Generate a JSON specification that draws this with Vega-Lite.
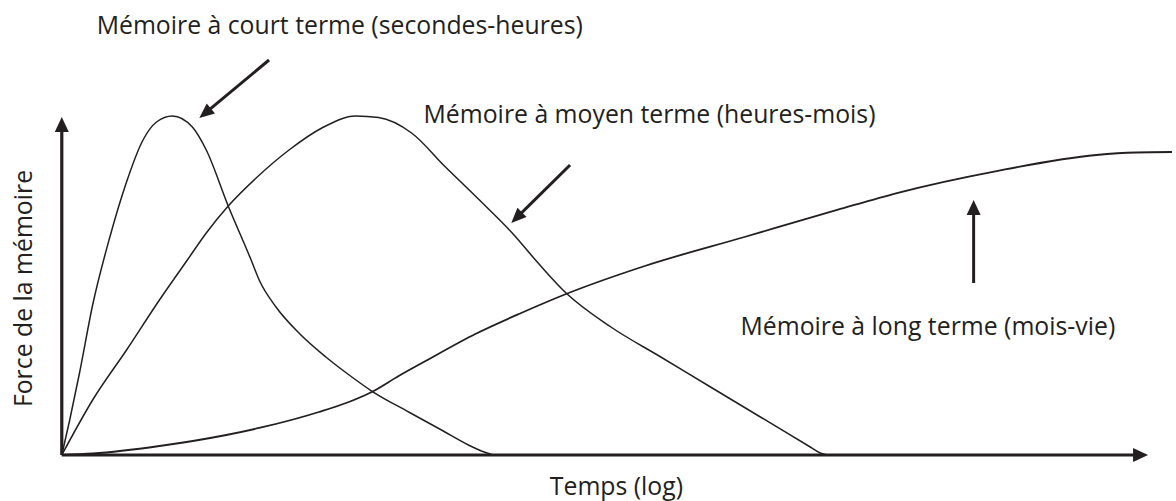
{
  "$schema": "https://vega.github.io/schema/vega-lite/v6.json",
  "width": 1176,
  "height": 501,
  "padding": 0,
  "autosize": {"type": "fit", "contains": "padding"},
  "background": "white",
  "config": {"view": {"stroke": null}},
  "datasets": {
    "courbes": [
      {"serie": "court", "ordre": 0, "t": 0, "f": 0},
      {"serie": "court", "ordre": 1, "t": 0.73, "f": 10.36},
      {"serie": "court", "ordre": 2, "t": 1.65, "f": 24.56},
      {"serie": "court", "ordre": 3, "t": 2.84, "f": 44.38},
      {"serie": "court", "ordre": 4, "t": 4.40, "f": 64.20},
      {"serie": "court", "ordre": 5, "t": 5.96, "f": 80.77},
      {"serie": "court", "ordre": 6, "t": 7.43, "f": 92.90},
      {"serie": "court", "ordre": 7, "t": 8.72, "f": 98.52},
      {"serie": "court", "ordre": 8, "t": 10.18, "f": 100.30},
      {"serie": "court", "ordre": 9, "t": 12.02, "f": 97.04},
      {"serie": "court", "ordre": 10, "t": 13.30, "f": 90.24},
      {"serie": "court", "ordre": 11, "t": 15.32, "f": 73.67},
      {"serie": "court", "ordre": 12, "t": 17.43, "f": 57.69},
      {"serie": "court", "ordre": 13, "t": 18.17, "f": 51.78},
      {"serie": "court", "ordre": 14, "t": 19.72, "f": 43.79},
      {"serie": "court", "ordre": 15, "t": 21.83, "f": 36.09},
      {"serie": "court", "ordre": 16, "t": 24.31, "f": 28.99},
      {"serie": "court", "ordre": 17, "t": 26.70, "f": 23.08},
      {"serie": "court", "ordre": 18, "t": 28.53, "f": 18.93},
      {"serie": "court", "ordre": 19, "t": 31.93, "f": 12.72},
      {"serie": "court", "ordre": 20, "t": 34.95, "f": 7.40},
      {"serie": "court", "ordre": 21, "t": 37.43, "f": 2.96},
      {"serie": "court", "ordre": 22, "t": 38.62, "f": 1.18},
      {"serie": "court", "ordre": 23, "t": 39.72, "f": 0},
      {"serie": "moyen", "ordre": 0, "t": 0, "f": 0},
      {"serie": "moyen", "ordre": 1, "t": 2.84, "f": 16.27},
      {"serie": "moyen", "ordre": 2, "t": 5.96, "f": 31.07},
      {"serie": "moyen", "ordre": 3, "t": 8.99, "f": 45.86},
      {"serie": "moyen", "ordre": 4, "t": 11.56, "f": 57.69},
      {"serie": "moyen", "ordre": 5, "t": 13.30, "f": 65.68},
      {"serie": "moyen", "ordre": 6, "t": 15.32, "f": 73.67},
      {"serie": "moyen", "ordre": 7, "t": 17.89, "f": 81.95},
      {"serie": "moyen", "ordre": 8, "t": 20.92, "f": 90.24},
      {"serie": "moyen", "ordre": 9, "t": 23.94, "f": 96.75},
      {"serie": "moyen", "ordre": 10, "t": 27.06, "f": 100.30},
      {"serie": "moyen", "ordre": 11, "t": 29.17, "f": 99.85},
      {"serie": "moyen", "ordre": 12, "t": 32.20, "f": 95.27},
      {"serie": "moyen", "ordre": 13, "t": 35.32, "f": 85.21},
      {"serie": "moyen", "ordre": 14, "t": 38.35, "f": 75.74},
      {"serie": "moyen", "ordre": 15, "t": 41.38, "f": 65.98},
      {"serie": "moyen", "ordre": 16, "t": 43.85, "f": 56.80},
      {"serie": "moyen", "ordre": 17, "t": 46.42, "f": 47.93},
      {"serie": "moyen", "ordre": 18, "t": 50.55, "f": 37.87},
      {"serie": "moyen", "ordre": 19, "t": 55.14, "f": 28.99},
      {"serie": "moyen", "ordre": 20, "t": 59.72, "f": 20.12},
      {"serie": "moyen", "ordre": 21, "t": 64.31, "f": 11.24},
      {"serie": "moyen", "ordre": 22, "t": 68.90, "f": 2.37},
      {"serie": "moyen", "ordre": 23, "t": 69.82, "f": 0.59},
      {"serie": "moyen", "ordre": 24, "t": 70.46, "f": 0},
      {"serie": "long", "ordre": 0, "t": 0, "f": 0},
      {"serie": "long", "ordre": 1, "t": 2.84, "f": 0.44},
      {"serie": "long", "ordre": 2, "t": 8.99, "f": 2.66},
      {"serie": "long", "ordre": 3, "t": 15.14, "f": 5.92},
      {"serie": "long", "ordre": 4, "t": 18.17, "f": 7.99},
      {"serie": "long", "ordre": 5, "t": 23.67, "f": 12.72},
      {"serie": "long", "ordre": 6, "t": 26.42, "f": 15.68},
      {"serie": "long", "ordre": 7, "t": 28.53, "f": 18.64},
      {"serie": "long", "ordre": 8, "t": 31.01, "f": 23.37},
      {"serie": "long", "ordre": 9, "t": 33.49, "f": 27.81},
      {"serie": "long", "ordre": 10, "t": 38.07, "f": 35.80},
      {"serie": "long", "ordre": 11, "t": 42.29, "f": 42.01},
      {"serie": "long", "ordre": 12, "t": 46.42, "f": 47.63},
      {"serie": "long", "ordre": 13, "t": 53.67, "f": 55.92},
      {"serie": "long", "ordre": 14, "t": 62.84, "f": 64.50},
      {"serie": "long", "ordre": 15, "t": 71.38, "f": 72.49},
      {"serie": "long", "ordre": 16, "t": 76.88, "f": 77.51},
      {"serie": "long", "ordre": 17, "t": 86.06, "f": 84.02},
      {"serie": "long", "ordre": 18, "t": 95.23, "f": 88.76},
      {"serie": "long", "ordre": 19, "t": 98.90, "f": 89.50},
      {"serie": "long", "ordre": 20, "t": 102.20, "f": 89.64}
    ],
    "axes": [
      {"id": "axe-y", "t": 0, "f": 0, "t2": 0, "f2": 97.6},
      {"id": "axe-x", "t": 0, "f": 0, "t2": 99.4, "f2": 0}
    ],
    "fleches": [
      {"id": "court", "t": 19.08, "f": 116.86, "t2": 13.23, "f2": 101.21},
      {"id": "moyen", "t": 46.79, "f": 85.80, "t2": 41.90, "f2": 70.30},
      {"id": "long", "t": 83.94, "f": 50.89, "t2": 83.94, "f2": 73.08}
    ],
    "pointes": [
      {"id": "axe-y", "t": 0, "f": 100},
      {"id": "axe-x", "t": 100, "f": 0},
      {"id": "court", "t": 12.66, "f": 99.70},
      {"id": "moyen", "t": 41.38, "f": 68.64},
      {"id": "long", "t": 83.94, "f": 75.44}
    ],
    "textes": [
      {"id": "court", "texte": "Mémoire à court terme (secondes-heures)", "t": 3.21, "f": 124.56},
      {"id": "moyen", "texte": "Mémoire à moyen terme (heures-mois)", "t": 33.30, "f": 98.22},
      {"id": "long", "texte": "Mémoire à long terme (mois-vie)", "t": 62.48, "f": 35.50},
      {"id": "temps", "texte": "Temps (log)", "t": 51.06, "f": -11.83},
      {"id": "force", "texte": "Force de la mémoire", "t": -2.75, "f": 49.26}
    ]
  },
  "encoding": {
    "x": {"field": "t", "type": "quantitative", "axis": null, "scale": {"domain": [-5.688, 102.202], "nice": false, "zero": false}},
    "y": {"field": "f", "type": "quantitative", "axis": null, "scale": {"domain": [-13.609, 134.615], "nice": false, "zero": false}}
  },
  "layer": [
    {
      "data": {"name": "courbes"},
      "transform": [{"filter": "datum.serie !== 'long'"}],
      "mark": {"type": "line", "interpolate": "monotone", "color": "#231f20", "strokeWidth": 1.5, "clip": false},
      "encoding": {
        "detail": {"field": "serie", "type": "nominal"},
        "order": {"field": "ordre", "type": "quantitative"}
      }
    },
    {
      "data": {"name": "courbes"},
      "transform": [{"filter": "datum.serie === 'long'"}],
      "mark": {"type": "line", "interpolate": "monotone", "color": "#231f20", "strokeWidth": 1.8, "clip": false},
      "encoding": {
        "order": {"field": "ordre", "type": "quantitative"}
      }
    },
    {
      "data": {"name": "axes"},
      "mark": {"type": "rule", "color": "#231f20", "strokeWidth": 3.2},
      "encoding": {
        "x2": {"field": "t2"},
        "y2": {"field": "f2"}
      }
    },
    {
      "data": {"name": "fleches"},
      "mark": {"type": "rule", "color": "#231f20", "strokeWidth": 3},
      "encoding": {
        "x2": {"field": "t2"},
        "y2": {"field": "f2"}
      }
    },
    {
      "data": {"name": "pointes"},
      "transform": [{"filter": "datum.id === 'axe-y' || datum.id === 'long'"}],
      "mark": {"type": "point", "shape": "M0,0L-0.7,1.5L0.7,1.5Z", "size": 400, "filled": true, "opacity": 1, "color": "#231f20", "strokeWidth": 0, "angle": 0}
    },
    {
      "data": {"name": "pointes"},
      "transform": [{"filter": "datum.id === 'axe-x'"}],
      "mark": {"type": "point", "shape": "M0,0L-0.7,1.5L0.7,1.5Z", "size": 400, "filled": true, "opacity": 1, "color": "#231f20", "strokeWidth": 0, "angle": 90}
    },
    {
      "data": {"name": "pointes"},
      "transform": [{"filter": "datum.id === 'court'"}],
      "mark": {"type": "point", "shape": "M0,0L-0.65,1.5L0.65,1.5Z", "size": 400, "filled": true, "opacity": 1, "color": "#231f20", "strokeWidth": 0, "angle": 230.4}
    },
    {
      "data": {"name": "pointes"},
      "transform": [{"filter": "datum.id === 'moyen'"}],
      "mark": {"type": "point", "shape": "M0,0L-0.65,1.5L0.65,1.5Z", "size": 400, "filled": true, "opacity": 1, "color": "#231f20", "strokeWidth": 0, "angle": 225.5}
    },
    {
      "data": {"name": "textes"},
      "transform": [{"filter": "datum.id === 'court' || datum.id === 'moyen' || datum.id === 'long'"}],
      "mark": {"type": "text", "align": "left", "baseline": "alphabetic", "font": "Open Sans", "fontSize": 24.8, "color": "#231f20"},
      "encoding": {"text": {"field": "texte"}}
    },
    {
      "data": {"name": "textes"},
      "transform": [{"filter": "datum.id === 'temps'"}],
      "mark": {"type": "text", "align": "center", "baseline": "alphabetic", "font": "Open Sans", "fontSize": 24.8, "color": "#231f20"},
      "encoding": {"text": {"field": "texte"}}
    },
    {
      "data": {"name": "textes"},
      "transform": [{"filter": "datum.id === 'force'"}],
      "mark": {"type": "text", "align": "center", "baseline": "alphabetic", "angle": 270, "font": "Open Sans", "fontSize": 24.8, "color": "#231f20"},
      "encoding": {"text": {"field": "texte"}}
    }
  ]
}
